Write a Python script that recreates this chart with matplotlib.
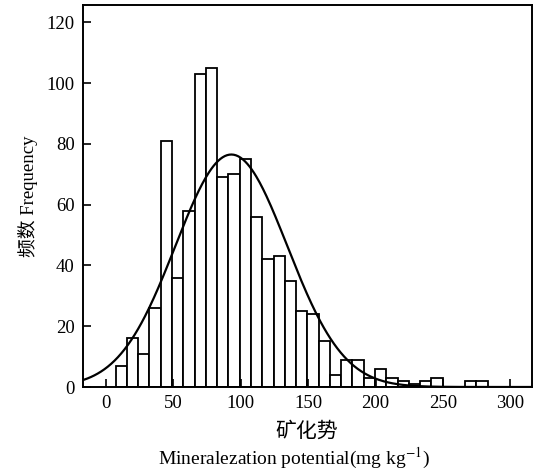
import matplotlib
matplotlib.use('Agg')
import matplotlib.pyplot as plt
import numpy as np

plt.rcParams['font.family'] = ['Liberation Serif', 'Noto Sans CJK SC']
plt.rcParams['mathtext.fontset'] = 'stix'

# histogram counts (33 equal bins)
counts = [7, 16, 11, 26, 81, 36, 58, 103, 105, 69, 70, 75, 56, 42, 43, 35, 25,
          24, 15, 4, 9, 9, 3, 6, 3, 2, 1, 2, 3, 0, 0, 2, 2]
bin_lo, bin_hi = 7.2, 283.2

# fitted normal curve
fit_mean, fit_sd, fit_peak = 93.0, 41.5, 76.5

x_ticks = [0, 50, 100, 150, 200, 250, 300]
y_ticks = [0, 20, 40, 60, 80, 100, 120]

fig = plt.figure(figsize=(5.42, 4.72), dpi=100)
ax = fig.add_axes([83 / 542, 1 - 387 / 472, 449 / 542, 382 / 472])

edges = np.linspace(bin_lo, bin_hi, len(counts) + 1)
w = edges[1] - edges[0]
ax.bar(edges[:-1], counts, width=w, align='edge', color='white',
       edgecolor='black', linewidth=1.3)

xs = np.linspace(-17, 316, 400)
ax.plot(xs, fit_peak * np.exp(-(xs - fit_mean) ** 2 / (2 * fit_sd ** 2)),
        color='black', linewidth=1.6)

ax.set_xlim(-17, 316)
ax.set_ylim(0, 125.7)
ax.set_xticks(x_ticks)
ax.set_yticks(y_ticks)
ax.tick_params(direction='in', length=6, width=1.2, labelsize=13.5,
               top=False, right=False, pad=6)
for s in ax.spines.values():
    s.set_linewidth(1.4)

ax.set_ylabel('频数 Frequency', fontsize=13.5, labelpad=6)
# two-line x label placed as separate texts
fig.text(307 / 542, 1 - 432 / 472, '矿化势', fontsize=15,
         ha='center', va='center')
fig.text(294 / 542, 1 - 458 / 472, 'Mineralezation potential(mg kg$^{-1}$)',
         fontsize=14, ha='center', va='center')

fig.savefig('out.png', dpi=100)
